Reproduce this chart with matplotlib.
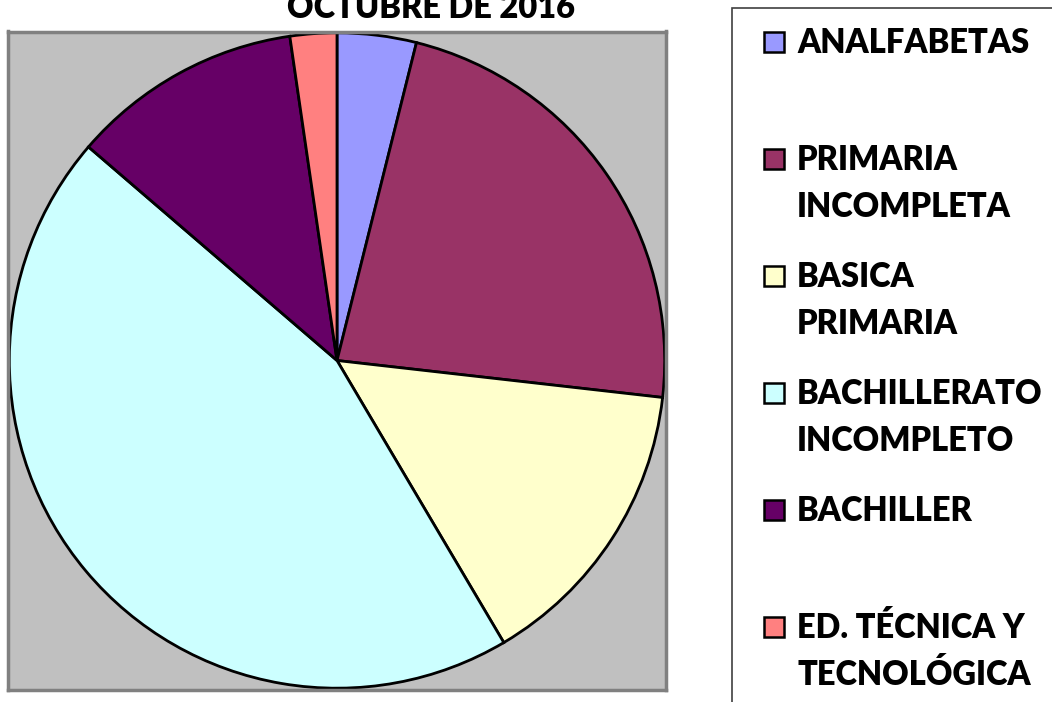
import matplotlib.pyplot as plt
from matplotlib.patches import Rectangle

# data (share of each schooling level, %)
categories = ["ANALFABETAS", "PRIMARIA INCOMPLETA", "BASICA PRIMARIA",
              "BACHILLERATO INCOMPLETO", "BACHILLER", "ED. TÉCNICA Y TECNOLÓGICA"]
legend_lines = [["ANALFABETAS"], ["PRIMARIA", "INCOMPLETA"], ["BASICA", "PRIMARIA"],
                ["BACHILLERATO", "INCOMPLETO"], ["BACHILLER"], ["ED. TÉCNICA Y", "TECNOLÓGICA"]]
values = [3.9, 22.9, 14.7, 44.8, 11.4, 2.3]
colors = ["#9999FF", "#993366", "#FFFFCC", "#CCFFFF", "#660066", "#FF8080"]
title = "OCTUBRE DE 2016"

W, H = 1052, 702
FONT = "Lato"
FS = 23.5
WEIGHT = "heavy"


def fx(px):
    return px / W


def fy(py):
    return 1 - py / H


fig = plt.figure(figsize=(W / 100, H / 100), dpi=100)

# plot area (gray square)
ax = fig.add_axes([fx(8), fy(690), (666 - 8) / W, (690 - 31) / H])
ax.pie(values, colors=colors, startangle=90, counterclock=False, radius=1,
       frame=True, wedgeprops=dict(edgecolor="black", linewidth=2))
ax.set_facecolor("#C0C0C0")
ax.set_xlim(-1.004, 1.004)
ax.set_ylim(-1.004, 1.004)
ax.set_xticks([])
ax.set_yticks([])
for s in ax.spines.values():
    s.set_color("#808080")
    s.set_linewidth(2.5)

# title (upper lines are cut off in the reference)
fig.text(fx(431), fy(18), title, ha="center", va="baseline",
         fontsize=FS, fontweight=WEIGHT, family=FONT)

# legend frame, running off the right and bottom edges
fig.add_artist(Rectangle((fx(732), fy(1000)), 1, fy(8) - fy(1000),
                         transform=fig.transFigure, fill=False,
                         edgecolor="#404040", linewidth=1.2))

step = 117
for i, (lines, c) in enumerate(zip(legend_lines, colors)):
    base = 53 + step * i
    fig.add_artist(Rectangle((fx(764), fy(base - 1)), 20 / W, 20 / H,
                             transform=fig.transFigure, facecolor=c,
                             edgecolor="black", linewidth=1.8))
    for j, line in enumerate(lines):
        fig.text(fx(797), fy(base + 47 * j), line, ha="left", va="baseline",
                 fontsize=FS, fontweight=WEIGHT, family=FONT)

fig.savefig("out.png", dpi=100)
